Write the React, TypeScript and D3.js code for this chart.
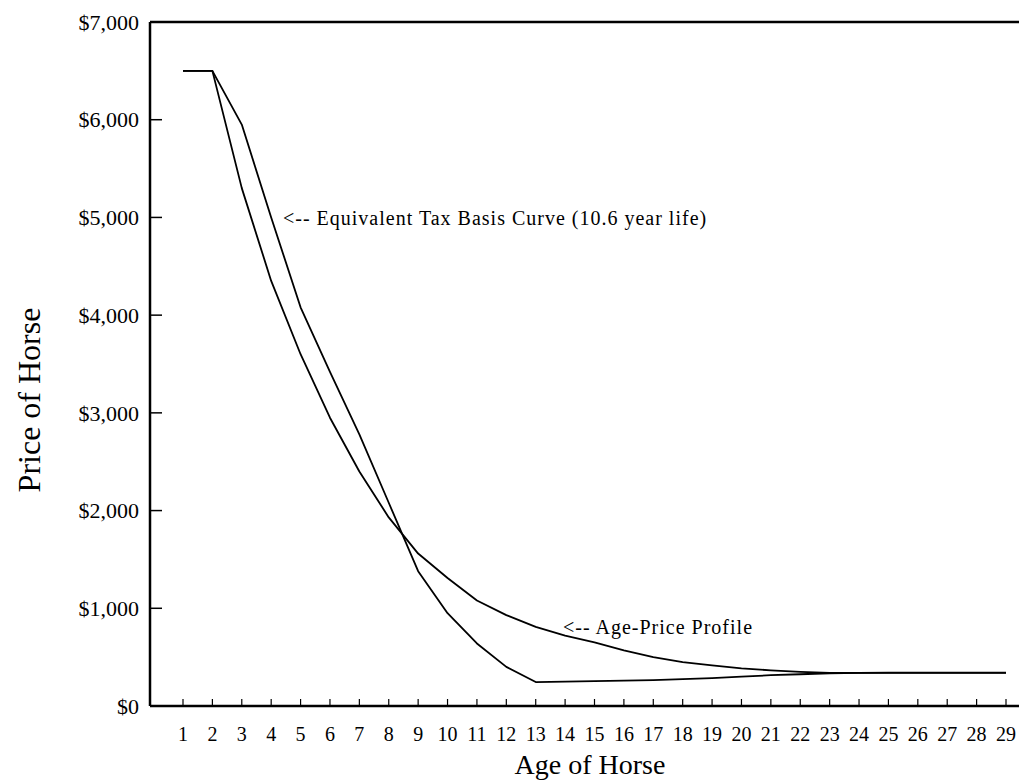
import { useEffect, useRef } from 'react'
import * as d3 from 'd3'

const AGES = d3.range(1, 30)
// Age-Price Profile (smooth curve)
const AGE_PRICE = [
  6500, 6500, 5300, 4350, 3600, 2950, 2400, 1930, 1560, 1310,
  1080, 930, 810, 720, 650, 570, 500, 450, 415, 385,
  365, 350, 340, 340, 340, 340, 340, 340, 340,
]
// Equivalent Tax Basis Curve (10.6 year life)
const TAX_BASIS = [
  6500, 6500, 5950, 5000, 4080, 3420, 2780, 2080, 1380, 950,
  640, 400, 245, 250, 255, 260, 265, 275, 285, 300,
  315, 325, 335, 340, 342, 342, 342, 342, 342,
]
const Y_TICKS = [0, 1000, 2000, 3000, 4000, 5000, 6000, 7000]

const W = 1019
const H = 781
const FONT = '"Liberation Serif", "Times New Roman", serif'

export default function App() {
  const svgRef = useRef<SVGSVGElement>(null)

  useEffect(() => {
    const svgEl = svgRef.current
    if (!svgEl) return
    const svg = d3.select(svgEl)
    svg.selectAll('*').remove()

    const left = 150
    const top = 22
    const bottom = 706

    // ages 1..29 sit at 183..1006
    const x = d3.scaleLinear().domain([1, 29]).range([183, 1006])
    const y = d3.scaleLinear().domain([0, 7000]).range([bottom, top])

    const g = svg.append('g').attr('font-family', FONT).attr('fill', '#000')

    // frame: top line, left axis, bottom axis
    g.append('line').attr('x1', left).attr('x2', W).attr('y1', top).attr('y2', top)
      .attr('stroke', '#000').attr('stroke-width', 2.5)
    g.append('line').attr('x1', left).attr('x2', left).attr('y1', top).attr('y2', bottom)
      .attr('stroke', '#000').attr('stroke-width', 2.5)
    g.append('line').attr('x1', left).attr('x2', W).attr('y1', bottom).attr('y2', bottom)
      .attr('stroke', '#000').attr('stroke-width', 2.5)

    // y ticks (inward) and labels
    Y_TICKS.forEach((v) => {
      if (v > 0 && v < 7000) {
        g.append('line').attr('x1', left).attr('x2', left + 12).attr('y1', y(v)).attr('y2', y(v))
          .attr('stroke', '#000').attr('stroke-width', 1.5)
      }
      g.append('text').attr('x', 139).attr('y', y(v)).attr('dy', '0.35em')
        .attr('text-anchor', 'end').attr('font-size', 22)
        .text(d3.format('$,')(v))
    })

    // x ticks (upward) and labels
    AGES.forEach((a) => {
      g.append('line').attr('x1', x(a)).attr('x2', x(a)).attr('y1', bottom).attr('y2', bottom - 7)
        .attr('stroke', '#000').attr('stroke-width', 1.2)
      g.append('text').attr('x', x(a)).attr('y', 741)
        .attr('text-anchor', 'middle').attr('font-size', 20)
        .text(String(a))
    })

    const line = d3.line<number>().x((_, i) => x(AGES[i])).y((d) => y(d))

    g.append('path').datum(AGE_PRICE).attr('d', line).attr('fill', 'none')
      .attr('stroke', '#000').attr('stroke-width', 1.8).attr('stroke-linejoin', 'round')
    g.append('path').datum(TAX_BASIS).attr('d', line).attr('fill', 'none')
      .attr('stroke', '#000').attr('stroke-width', 1.8).attr('stroke-linejoin', 'round')

    // annotations
    g.append('text').attr('x', 283).attr('y', 225).attr('font-size', 20)
      .attr('letter-spacing', 1).text('<-- Equivalent Tax Basis Curve (10.6 year life)')
    g.append('text').attr('x', 563).attr('y', 634).attr('font-size', 20)
      .attr('letter-spacing', 1).text('<-- Age-Price Profile')

    // axis titles
    g.append('text').attr('x', 590).attr('y', 774).attr('text-anchor', 'middle')
      .attr('font-size', 28).text('Age of Horse')
    g.append('text').attr('transform', `translate(40,400) rotate(-90)`)
      .attr('text-anchor', 'middle').attr('font-size', 32).text('Price of Horse')

    return () => { svg.selectAll('*').remove() }
  }, [])

  return (
    <div style={{ position: 'absolute', left: 0, top: 0, width: W, height: H, background: '#fff' }}>
      <svg ref={svgRef} width={W} height={H} style={{ display: 'block' }} />
    </div>
  )
}
